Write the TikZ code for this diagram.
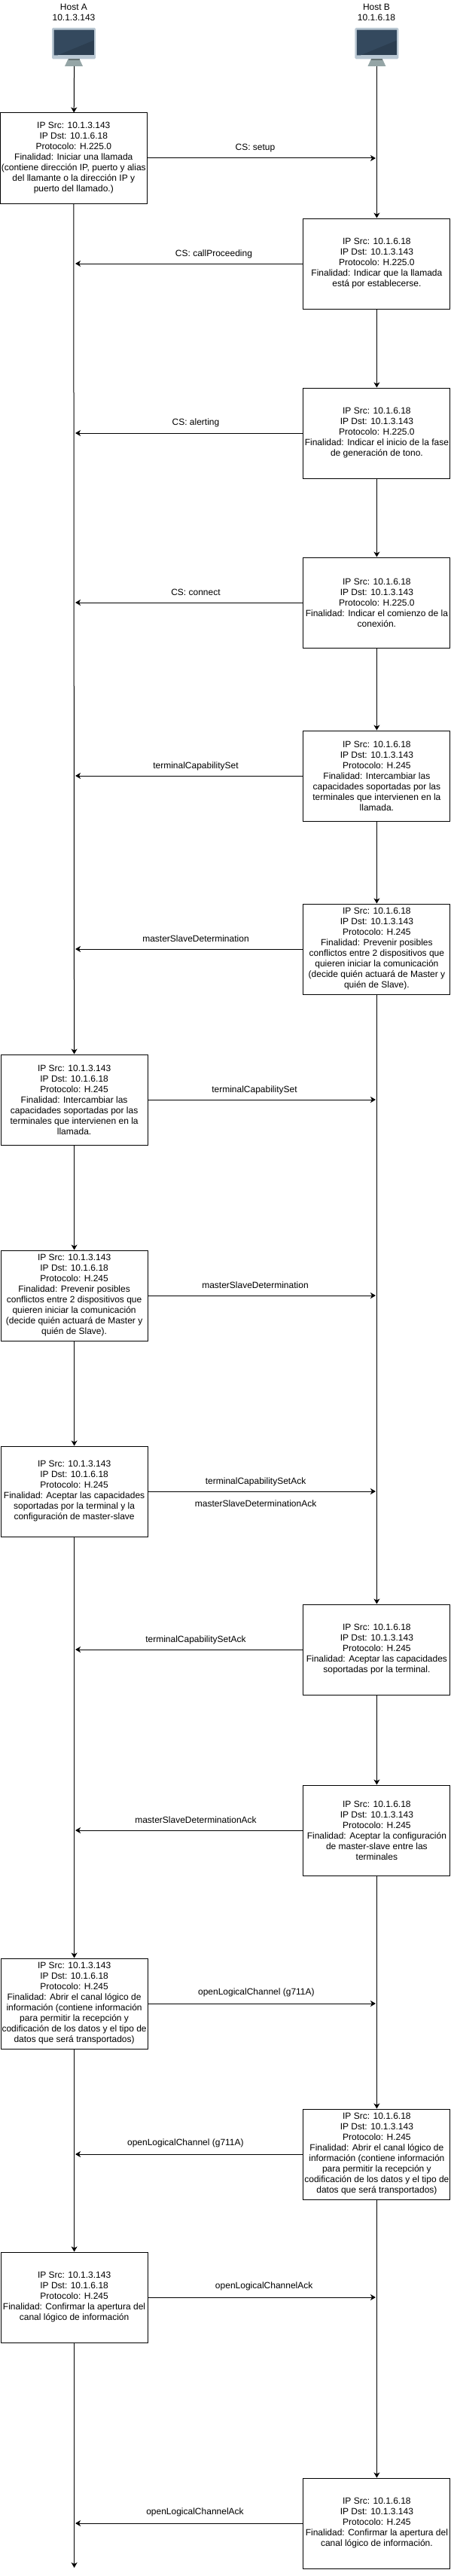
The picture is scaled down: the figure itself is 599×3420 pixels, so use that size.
\documentclass[tikz,border=0pt]{standalone}
\usepackage{fontspec}
\setmainfont{Liberation Sans}
\usetikzlibrary{arrows.meta}
\definecolor{framegray}{HTML}{BAC8D3}
\definecolor{screenlight}{HTML}{34495E}
\definecolor{screendark}{HTML}{2C3E50}
\definecolor{standgray}{HTML}{95A5A6}
\tikzset{
  monitor/.pic={
    \fill[framegray, rounded corners=1.5pt] (-29,0) rectangle (29,41.3);
    \fill[standgray] (-7.5,41.3) -- (7.5,41.3) -- (12,51) -- (-12,51) -- cycle;
    \fill[standgray!70!black] (-7.5,41.3) rectangle (7.5,43);
    \fill[screendark] (-26.5,2.7) rectangle (26.5,36.3);
    \fill[screenlight] (-26.5,2.7) -- (26.5,2.7) -- (26.5,16.5) -- (-21.5,36.3) -- (-26.5,36.3) -- cycle;
  },
}
\begin{document}
\begin{tikzpicture}[x=1pt, y=-1pt, line width=1pt,
  font=\fontsize{12}{14}\selectfont,
  host/.style={align=center, inner sep=0pt},
  packet/.style={draw, fill=white, align=center, inner sep=0pt, minimum width=195pt, minimum height=120pt},
  signal/.style={anchor=base, inner sep=0pt},
  transfer/.style={-{Stealth[length=7pt, width=8pt, inset=2pt]}},
]
\useasboundingbox (0,0) rectangle (599,3420);

\node[host] (labela) at (98,16) {Host A\\10.1.3.143};
\node[host] (labelb) at (500,16) {Host B\\10.1.6.18};
\pic at (98,37) {monitor};
\pic at (500.4,37) {monitor};
\coordinate (hosta) at (98.6,88);
\coordinate (hostb) at (500.4,88);
\coordinate (enda) at (98.6,3409);
\coordinate (lifea) at (100,0);
\coordinate (lifeb) at (499,0);

\node[packet] (a1) at (97.8,210) {IP Src: 10.1.3.143\\IP Dst: 10.1.6.18\\Protocolo: H.225.0\\Finalidad: Iniciar una llamada\\(contiene dirección IP, puerto y alias\\del llamante o la dirección IP y\\puerto del llamado.)};
\node[packet] (b1) at (500.4,350) {IP Src: 10.1.6.18\\IP Dst: 10.1.3.143\\Protocolo: H.225.0\\Finalidad: Indicar que la llamada\\está por establecerse.};
\node[packet] (b2) at (500.4,575) {IP Src: 10.1.6.18\\IP Dst: 10.1.3.143\\Protocolo: H.225.0\\Finalidad: Indicar el inicio de la fase\\de generación de tono.};
\node[packet] (b3) at (500.4,800) {IP Src: 10.1.6.18\\IP Dst: 10.1.3.143\\Protocolo: H.225.0\\Finalidad: Indicar el comienzo de la\\conexión.};
\node[packet] (b4) at (500.4,1030) {IP Src: 10.1.6.18\\IP Dst: 10.1.3.143\\Protocolo: H.245\\Finalidad: Intercambiar las\\capacidades soportadas por las\\terminales que intervienen en la\\llamada.};
\node[packet] (b5) at (500.4,1260) {IP Src: 10.1.6.18\\IP Dst: 10.1.3.143\\Protocolo: H.245\\Finalidad: Prevenir posibles\\conflictos entre 2 dispositivos que\\quieren iniciar la comunicación\\(decide quién actuará de Master y\\quién de Slave).};
\node[packet] (a2) at (98.6,1460) {IP Src: 10.1.3.143\\IP Dst: 10.1.6.18\\Protocolo: H.245\\Finalidad: Intercambiar las\\capacidades soportadas por las\\terminales que intervienen en la\\llamada.};
\node[packet] (a3) at (98.6,1720) {IP Src: 10.1.3.143\\IP Dst: 10.1.6.18\\Protocolo: H.245\\Finalidad: Prevenir posibles\\conflictos entre 2 dispositivos que\\quieren iniciar la comunicación\\(decide quién actuará de Master y\\quién de Slave).};
\node[packet] (a4) at (98.6,1980) {IP Src: 10.1.3.143\\IP Dst: 10.1.6.18\\Protocolo: H.245\\Finalidad: Aceptar las capacidades\\soportadas por la terminal y la\\configuración de master-slave};
\node[packet] (b6) at (500.4,2190) {IP Src: 10.1.6.18\\IP Dst: 10.1.3.143\\Protocolo: H.245\\Finalidad: Aceptar las capacidades\\soportadas por la terminal.};
\node[packet] (b7) at (500.4,2430) {IP Src: 10.1.6.18\\IP Dst: 10.1.3.143\\Protocolo: H.245\\Finalidad: Aceptar la configuración\\de master-slave entre las\\terminales};
\node[packet] (a5) at (98.6,2660) {IP Src: 10.1.3.143\\IP Dst: 10.1.6.18\\Protocolo: H.245\\Finalidad: Abrir el canal lógico de\\información (contiene información\\para permitir la recepción y\\codificación de los datos y el tipo de\\datos que será transportados)};
\node[packet] (b8) at (500.4,2860) {IP Src: 10.1.6.18\\IP Dst: 10.1.3.143\\Protocolo: H.245\\Finalidad: Abrir el canal lógico de\\información (contiene información\\para permitir la recepción y\\codificación de los datos y el tipo de\\datos que será transportados)};
\node[packet] (a6) at (98.6,3050) {IP Src: 10.1.3.143\\IP Dst: 10.1.6.18\\Protocolo: H.245\\Finalidad: Confirmar la apertura del\\canal lógico de información};
\node[packet] (b9) at (500.4,3350) {IP Src: 10.1.6.18\\IP Dst: 10.1.3.143\\Protocolo: H.245\\Finalidad: Confirmar la apertura del\\canal lógico de información.};

\draw[transfer] (hosta) -- (a1);
\draw[transfer] (a1) -- (a2);
\draw[transfer] (a2) -- (a3);
\draw[transfer] (a3) -- (a4);
\draw[transfer] (a4) -- (a5);
\draw[transfer] (a5) -- (a6);
\draw[transfer] (a6) -- (enda);

\draw[transfer] (hostb) -- (b1);
\draw[transfer] (b1) -- (b2);
\draw[transfer] (b2) -- (b3);
\draw[transfer] (b3) -- (b4);
\draw[transfer] (b4) -- (b5);
\draw[transfer] (b5) -- (b6);
\draw[transfer] (b6) -- (b7);
\draw[transfer] (b7) -- (b8);
\draw[transfer] (b8) -- (b9);

\draw[transfer] (a1.east) -- (a1.east -| lifeb);
\draw[transfer] (b1.west) -- (b1.west -| lifea);
\draw[transfer] (b2.west) -- (b2.west -| lifea);
\draw[transfer] (b3.west) -- (b3.west -| lifea);
\draw[transfer] (b4.west) -- (b4.west -| lifea);
\draw[transfer] (b5.west) -- (b5.west -| lifea);
\draw[transfer] (a2.east) -- (a2.east -| lifeb);
\draw[transfer] (a3.east) -- (a3.east -| lifeb);
\draw[transfer] (a4.east) -- (a4.east -| lifeb);
\draw[transfer] (b6.west) -- (b6.west -| lifea);
\draw[transfer] (b7.west) -- (b7.west -| lifea);
\draw[transfer] (a5.east) -- (a5.east -| lifeb);
\draw[transfer] (b8.west) -- (b8.west -| lifea);
\draw[transfer] (a6.east) -- (a6.east -| lifeb);
\draw[transfer] (b9.west) -- (b9.west -| lifea);

\node[signal] (setup) at (339,200) {CS: setup};
\node[signal] (proceeding) at (284,340) {CS: callProceeding};
\node[signal] (alerting) at (260,564.5) {CS: alerting};
\node[signal] (connect) at (260,790) {CS: connect};
\node[signal] (capset1) at (260,1020) {terminalCapabilitySet};
\node[signal] (msdet1) at (260,1250) {masterSlaveDetermination};
\node[signal] (capset2) at (338,1450) {terminalCapabilitySet};
\node[signal] (msdet2) at (339,1710) {masterSlaveDetermination};
\node[signal] (capack1) at (339.6,1970) {terminalCapabilitySetAck};
\node[signal] (msack1) at (339.6,2000) {masterSlaveDeterminationAck};
\node[signal] (capack2) at (260,2180) {terminalCapabilitySetAck};
\node[signal] (msack2) at (260,2420) {masterSlaveDeterminationAck};
\node[signal] (channel1) at (340.4,2648) {openLogicalChannel (g711A)};
\node[signal] (channel2) at (246.4,2848) {openLogicalChannel (g711A)};
\node[signal] (chanack1) at (350.7,3038) {openLogicalChannelAck};
\node[signal] (chanack2) at (259,3338) {openLogicalChannelAck};
\end{tikzpicture}
\end{document}
